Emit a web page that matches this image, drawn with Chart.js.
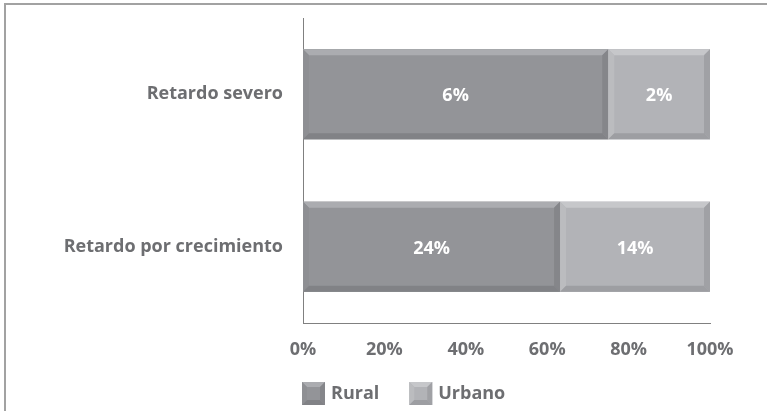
<!DOCTYPE html>
<html>
<head>
<meta charset="utf-8">
<script src="https://cdn.jsdelivr.net/npm/chart.js@4.4.1/dist/chart.umd.min.js"></script>
<style>
    html, body { margin: 0; padding: 0; background: #fff; }
    #wrap { position: relative; width: 767px; height: 411px; overflow: hidden; }
    #frame {
        position: absolute; left: 4px; top: 3px; width: 800px; height: 450px;
        border-top: 2px solid #a2a2a2; border-left: 2px solid #a2a2a2;
    }
    #chart { position: absolute; left: 0; top: 0; }
</style>
</head>
<body>
<div id="wrap">
    <div id="frame"></div>
    <canvas id="chart" width="767" height="411"></canvas>
</div>
<script>
// data
var categories = ['Retardo severo', 'Retardo por crecimiento'];
var seriesNames = ['Rural', 'Urbano'];
var rural = [6, 24];
var urbano = [2, 14];
var xTicks = [0, 20, 40, 60, 80, 100];

var textGray = '#6d6e71';
var fontFamily = '"Open Sans", sans-serif';

// face / top / left / right / bottom
var tones = [
    { face: '#939498', top: '#abacb0', left: '#8e8f93', right: '#85868a', bottom: '#818286' },
    { face: '#b2b3b7', top: '#c6c7ca', left: '#bbbcbf', right: '#a0a1a5', bottom: '#9d9ea2' }
];

function share(a, b) {
    return a.map(function (v, i) { return v / (v + b[i]) * 100; });
}

function poly(ctx, pts, color) {
    ctx.beginPath();
    ctx.moveTo(pts[0][0], pts[0][1]);
    for (var i = 1; i < pts.length; i++) ctx.lineTo(pts[i][0], pts[i][1]);
    ctx.closePath();
    ctx.fillStyle = color;
    ctx.fill();
}

function bevelBox(ctx, l, t, r, b, c, s) {
    ctx.fillStyle = c.face;
    ctx.fillRect(l, t, r - l, b - t);
    poly(ctx, [[l, t], [r, t], [r - s, t + s], [l + s, t + s]], c.top);
    poly(ctx, [[l, t], [l + s, t + s], [l + s, b - s], [l, b]], c.left);
    poly(ctx, [[r, t], [r, b], [r - s, b - s], [r - s, t + s]], c.right);
    poly(ctx, [[l, b], [l + s, b - s], [r - s, b - s], [r, b]], c.bottom);
}

var raw = [rural, urbano];

var bevelBars = {
    id: 'bevelBars',
    afterDatasetsDraw: function (chart) {
        var ctx = chart.ctx;
        ctx.save();
        chart.data.datasets.forEach(function (ds, di) {
            chart.getDatasetMeta(di).data.forEach(function (bar, i) {
                var p = bar.getProps(['x', 'y', 'base', 'height'], true);
                var l = Math.min(p.base, p.x), r = Math.max(p.base, p.x);
                var t = p.y - p.height / 2, b = p.y + p.height / 2;
                bevelBox(ctx, l, t, r, b, tones[di], 6);
                ctx.fillStyle = '#ffffff';
                ctx.font = 'bold 18px ' + fontFamily;
                ctx.textAlign = 'center';
                ctx.textBaseline = 'middle';
                ctx.fillText(raw[di][i] + '%', (l + r) / 2, p.y + 2);
            });
        });
        ctx.restore();
    }
};

var boxLegend = {
    id: 'boxLegend',
    afterDraw: function (chart) {
        var ctx = chart.ctx;
        var x = chart.chartArea.left - 1;
        var y = 382;
        ctx.save();
        ctx.font = 'bold 18px ' + fontFamily;
        ctx.textBaseline = 'middle';
        ctx.textAlign = 'left';
        seriesNames.forEach(function (name, i) {
            bevelBox(ctx, x, y, x + 23, y + 23, tones[i], 5);
            ctx.fillStyle = textGray;
            ctx.fillText(name, x + 29, y + 12);
            x += 29 + ctx.measureText(name).width + 30;
        });
        ctx.restore();
    }
};

var chart = new Chart(document.getElementById('chart'), {
    type: 'bar',
    plugins: [bevelBars, boxLegend],
    data: {
        labels: categories,
        datasets: [{
            label: seriesNames[0],
            data: share(rural, urbano),
            backgroundColor: tones[0].face,
            borderWidth: 0,
            barPercentage: 0.59,
            categoryPercentage: 1
        }, {
            label: seriesNames[1],
            data: share(urbano, rural),
            backgroundColor: tones[1].face,
            borderWidth: 0,
            barPercentage: 0.59,
            categoryPercentage: 1
        }]
    },
    options: {
        indexAxis: 'y',
        responsive: false,
        animation: false,
        layout: {
            padding: { top: 18, right: 57, bottom: 43, left: 0 }
        },
        plugins: {
            legend: { display: false },
            tooltip: { enabled: false }
        },
        scales: {
            x: {
                stacked: true,
                min: 0,
                max: 100,
                afterFit: function (s) { s.height = 45; },
                afterBuildTicks: function (s) {
                    s.ticks = xTicks.map(function (v) { return { value: v }; });
                },
                grid: { display: false },
                border: { display: true, color: '#808080', width: 1 },
                ticks: {
                    padding: 8,
                    color: textGray,
                    font: { family: fontFamily, size: 18, weight: 'bold' },
                    callback: function (v) { return v + '%'; }
                }
            },
            y: {
                stacked: true,
                afterFit: function (s) {
                    s.width = 303;
                    s.paddingTop = 0;
                    s.paddingBottom = 0;
                },
                grid: { display: false },
                border: { display: true, color: '#808080', width: 1 },
                ticks: {
                    padding: 12,
                    color: textGray,
                    font: { family: fontFamily, size: 18, weight: 'bold' }
                }
            }
        }
    }
});
</script>
</body>
</html>
